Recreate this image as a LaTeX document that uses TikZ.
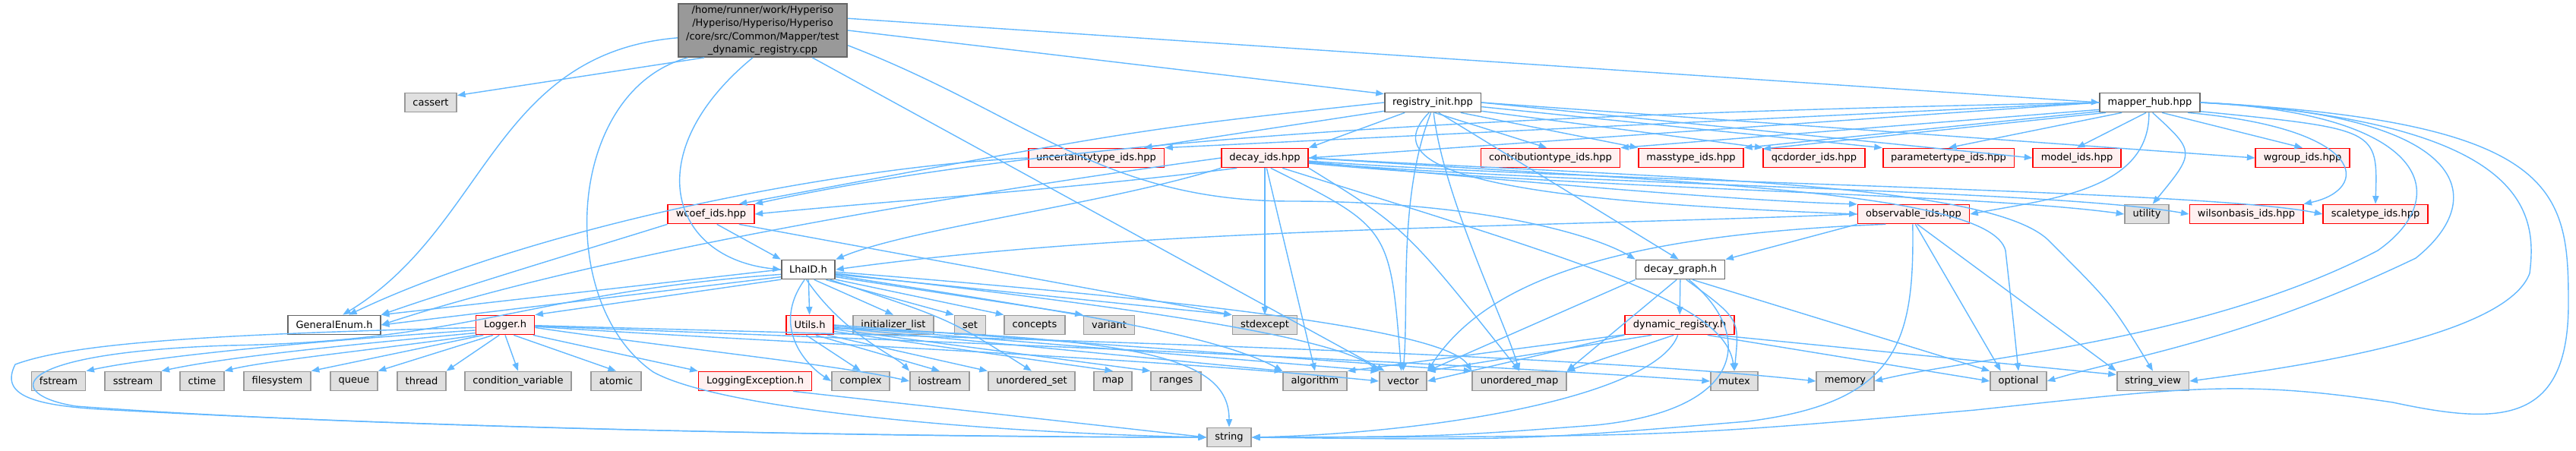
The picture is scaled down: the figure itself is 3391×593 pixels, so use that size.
\documentclass[tikz,border=0pt]{standalone}
\usepackage{fontspec}
\setmainfont{DejaVu Sans}
\usetikzlibrary{arrows.meta}

\definecolor{edgeblue}{HTML}{63B8FF}
\definecolor{mainfill}{HTML}{999999}
\definecolor{boxline}{HTML}{666666}
\definecolor{sysfill}{HTML}{E0E0E0}
\definecolor{sysline}{HTML}{999999}
\definecolor{truncfill}{HTML}{FFF0F0}

\tikzset{
  filebox/.style={draw=boxline, fill=white, line width=1pt, minimum height=0.5cm,
    inner xsep=0.21cm, inner ysep=0pt, font=\fontsize{7.4}{9.9}\selectfont},
  mainbox/.style={filebox, fill=mainfill, align=center, minimum height=1.4cm},
  truncbox/.style={filebox, draw=red, fill=truncfill},
  sysbox/.style={filebox, draw=sysline, fill=sysfill},
  dep/.style={draw=edgeblue, line width=0.8pt, -{Triangle[length=6pt,width=4.6pt]}},
}

\begin{document}
\begin{tikzpicture}[x=0.02cm, y=-0.02cm]
\useasboundingbox (0,0) rectangle (3391,593);

% the test file
\node[mainbox] (main) at (1004,40) {/home/runner/work/Hyperiso\\/Hyperiso/Hyperiso/Hyperiso\\/core/src/Common/Mapper/test\\\_dynamic\_registry.cpp};

% row 2
\node[sysbox] (cassert) at (567,135) {cassert};
\node[filebox] (reginit) at (1886,135) {registry\_init.hpp};
\node[filebox] (mapper) at (2830,135) {mapper\_hub.hpp};

% row 3: id headers
\node[truncbox] (uncert) at (1443,208) {uncertaintytype\_ids.hpp};
\node[truncbox] (decayids) at (1665,208) {decay\_ids.hpp};
\node[truncbox] (contrib) at (2041,208) {contributiontype\_ids.hpp};
\node[truncbox] (mass) at (2226,208) {masstype\_ids.hpp};
\node[truncbox] (qcd) at (2388,208) {qcdorder\_ids.hpp};
\node[truncbox] (param) at (2565,208) {parametertype\_ids.hpp};
\node[truncbox] (model) at (2734,208) {model\_ids.hpp};
\node[truncbox] (wgroup) at (3031,208) {wgroup\_ids.hpp};

% row 4
\node[truncbox] (wcoef) at (936,282) {wcoef\_ids.hpp};
\node[truncbox] (observ) at (2519,282) {observable\_ids.hpp};
\node[sysbox] (utility) at (2826,282) {utility};
\node[truncbox] (wilson) at (2957,282) {wilsonbasis\_ids.hpp};
\node[truncbox] (scale) at (3127,282) {scaletype\_ids.hpp};

% row 5
\node[filebox] (lhaid) at (1064,355) {LhaID.h};
\node[filebox] (dgraph) at (2212,355) {decay\_graph.h};

% row 6
\node[filebox] (genenum) at (440,428) {GeneralEnum.h};
\node[truncbox] (logger) at (665,428) {Logger.h};
\node[truncbox] (utils) at (1066,428) {Utils.h};
\node[sysbox] (initlist) at (1176,428) {initializer\_list};
\node[sysbox] (sset) at (1277,428) {set};
\node[sysbox] (concepts) at (1362,428) {concepts};
\node[sysbox] (variant) at (1460,428) {variant};
\node[sysbox] (stdexc) at (1665,428) {stdexcept};
\node[truncbox] (dynreg) at (2211,428) {dynamic\_registry.h};

% row 7: system headers
\node[sysbox] (fstream) at (77,502) {fstream};
\node[sysbox] (sstream) at (175,502) {sstream};
\node[sysbox] (ctime) at (266,502) {ctime};
\node[sysbox] (filesys) at (365,502) {filesystem};
\node[sysbox] (queue) at (466,502) {queue};
\node[sysbox] (thread) at (555,502) {thread};
\node[sysbox] (condvar) at (682,502) {condition\_variable};
\node[sysbox] (atomic) at (811,502) {atomic};
\node[truncbox] (logexc) at (994,502) {LoggingException.h};
\node[sysbox] (complex) at (1133,502) {complex};
\node[sysbox] (iostream) at (1237,502) {iostream};
\node[sysbox] (uset) at (1358,502) {unordered\_set};
\node[sysbox] (smap) at (1465,502) {map};
\node[sysbox] (ranges) at (1548,502) {ranges};
\node[sysbox] (algo) at (1731,502) {algorithm};
\node[sysbox] (vector) at (1847,502) {vector};
\node[sysbox] (umap) at (2000,502) {unordered\_map};
\node[sysbox] (mutex) at (2283,502) {mutex};
\node[sysbox] (memory) at (2429,502) {memory};
\node[sysbox] (optional) at (2657,502) {optional};
\node[sysbox] (strview) at (2834,502) {string\_view};

% row 8
\node[sysbox] (string) at (1618,576) {string};

% test file includes
\draw[dep] (main.205) -- (cassert.15);
\draw[dep] (main.185) .. controls (650,70) and (640,300) .. (genenum.50);
\draw[dep] (main.200) .. controls (745,120) and (730,400) .. (860,490) .. controls (950,540) and (1300,570) .. (string.west);
\draw[dep] (main.250) .. controls (840,200) and (880,340) .. (lhaid.west);
\draw[dep] (main.east) -- (reginit.170);
\draw[dep] (main.8) -- (mapper.west);
\draw[dep] (main) -- (vector);
\draw[dep] (main.-10) .. controls (1350,150) and (1450,265) .. (1700,265) .. controls (1950,265) and (2100,310) .. (dgraph.north west);

% registry_init.hpp
\draw[dep] (reginit.190) -- (uncert.12);
\draw[dep] (reginit.200) -- (decayids.north east);
\draw[dep] (reginit.-80) -- (contrib.110);
\draw[dep] (reginit.-20) -- (mass.north west);
\draw[dep] (reginit.-10) -- (qcd.north west);
\draw[dep] (reginit.-5) -- (param.north west);
\draw[dep] (reginit.east) -- (model.west);
\draw[dep] (reginit.east) -- (wgroup.west);
\draw[dep] (reginit.west) .. controls (1500,170) .. (wcoef.20);
\draw[dep] (reginit.250) .. controls (1800,230) and (2000,265) .. (observ.west);
\draw[dep] (reginit.-60) -- (dgraph.100);
\draw[dep] (reginit.260) .. controls (1840,260) and (1855,400) .. (vector.north);
\draw[dep] (reginit.275) .. controls (1900,260) and (1980,420) .. (umap.north);

% mapper_hub.hpp
\draw[dep] (mapper.west) -- (uncert.north east);
\draw[dep] (mapper.west) -- (decayids.east);
\draw[dep] (mapper.188) -- (contrib.north east);
\draw[dep] (mapper.190) -- (mass.north east);
\draw[dep] (mapper.193) -- (qcd.170);
\draw[dep] (mapper.200) -- (param.north);
\draw[dep] (mapper.250) -- (model.north);
\draw[dep] (mapper.-40) -- (wgroup.north);
\draw[dep] (mapper.180) .. controls (2000,150) and (1400,180) .. (wcoef.north east);
\draw[dep] (mapper.265) .. controls (2830,250) and (2700,262) .. (observ.east);
\draw[dep] (mapper.-75) .. controls (2890,200) .. (utility.60);
\draw[dep] (mapper.-15) .. controls (3120,170) and (3120,250) .. (wilson.north east);
\draw[dep] (mapper.-10) .. controls (3130,170) .. (scale.north);
\draw[dep] (mapper.east) .. controls (3200,150) and (3230,260) .. (3130,330) .. controls (2900,450) and (2600,470) .. (memory.east);
\draw[dep] (mapper.east) .. controls (3250,150) and (3280,260) .. (3180,340) .. controls (2950,450) and (2800,470) .. (optional.east);
\draw[dep] (mapper.east) .. controls (3330,160) and (3340,280) .. (3330,360) .. controls (3300,440) and (3050,480) .. (strview.east);
\draw[dep] (mapper.east) .. controls (3370,160) and (3381,250) .. (3381,400) .. controls (3381,560) and (3290,560) .. (3150,530) .. controls (2950,500) and (2880,510) .. (2600,540) .. controls (2200,575) .. (string.east);

% decay_ids.hpp
\draw[dep] (decayids) -- (stdexc);
\draw[dep] (decayids.-80) -- (algo.north);
\draw[dep] (decayids.south west) .. controls (1450,270) and (1200,300) .. (lhaid.north east);
\draw[dep] (decayids.west) .. controls (1300,250) and (800,330) .. (genenum.east);
\draw[dep] (decayids.200) .. controls (1400,250) and (1200,262) .. (wcoef.east);
\draw[dep] (decayids.-5) .. controls (2000,240) and (2300,265) .. (observ.170);
\draw[dep] (decayids.-7) .. controls (2100,250) and (2600,255) .. (utility.west);
\draw[dep] (decayids.-6) .. controls (2100,245) and (2700,250) .. (wilson.west);
\draw[dep] (decayids.-4) .. controls (2100,240) and (2900,250) .. (scale.west);
\draw[dep] (decayids.south east) .. controls (1850,300) .. (umap.north);
\draw[dep] (decayids.-30) .. controls (2100,350) and (2270,400) .. (mutex.north);
\draw[dep] (decayids.-60) .. controls (1830,300) .. (vector.100);
\draw[dep] (decayids.east) .. controls (2200,240) and (2620,250) .. (2640,330) .. controls (2650,420) .. (optional.north);
\draw[dep] (decayids.east) .. controls (2200,235) and (2630,240) .. (2700,320) .. controls (2780,400) .. (strview.north);

% observable_ids.hpp
\draw[dep] (observ.south west) -- (dgraph.north east);
\draw[dep] (observ.west) .. controls (2000,300) and (1500,300) .. (lhaid.east);
\draw[dep] (observ.200) .. controls (2100,310) and (1950,380) .. (vector.north east);
\draw[dep] (observ.-80) -- (optional.150);
\draw[dep] (observ.-70) -- (strview.north west);
\draw[dep] (observ.-95) .. controls (2520,450) and (2500,530) .. (2300,555) .. controls (2000,580) .. (string.east);

% decay_graph.h
\draw[dep] (dgraph) -- (dynreg);
\draw[dep] (dgraph.south west) -- (vector.north east);
\draw[dep] (dgraph.-110) -- (umap.north east);
\draw[dep] (dgraph.-60) .. controls (2290,420) .. (mutex.north);
\draw[dep] (dgraph.-40) -- (optional.north west);
\draw[dep] (dgraph.-50) .. controls (2310,440) and (2300,540) .. (2100,560) .. controls (1900,575) .. (string.east);

% dynamic_registry.h
\draw[dep] (dynreg.south west) -- (vector.east);
\draw[dep] (dynreg.200) -- (vector.north east);
\draw[dep] (dynreg.-120) -- (umap.north east);
\draw[dep] (dynreg.190) -- (algo.north east);
\draw[dep] (dynreg.-100) .. controls (2180,520) and (1900,570) .. (string.east);
\draw[dep] (dynreg.-15) -- (strview.170);
\draw[dep] (dynreg.-20) -- (optional.west);

% LhaID.h
\draw[dep] (lhaid.west) -- (genenum.north east);
\draw[dep] (lhaid.195) -- (genenum.east);
\draw[dep] (lhaid.200) -- (logger.north east);
\draw[dep] (lhaid) -- (utils);
\draw[dep] (lhaid.-60) -- (initlist.north);
\draw[dep] (lhaid.-30) -- (sset.north west);
\draw[dep] (lhaid.-20) -- (concepts.north west);
\draw[dep] (lhaid.-15) -- (variant.north west);
\draw[dep] (lhaid.-10) -- (stdexc.north west);
\draw[dep] (lhaid.250) .. controls (1015,430) and (1060,480) .. (complex.west);
\draw[dep] (lhaid.-100) .. controls (1110,440) and (1180,470) .. (iostream.north west);
\draw[dep] (lhaid.-25) .. controls (1250,420) .. (uset.north);
\draw[dep] (lhaid.-12) .. controls (1400,410) and (1600,440) .. (algo.north west);
\draw[dep] (lhaid.-8) .. controls (1450,400) and (1750,440) .. (vector.north west);
\draw[dep] (lhaid.-5) .. controls (1500,390) and (1900,430) .. (umap.north west);
\draw[dep] (lhaid.190) .. controls (700,385) and (620,450) .. (300,455) .. controls (5,465) and (5,520) .. (100,535) .. controls (500,565) and (1200,575) .. (string.west);

% Logger.h
\draw[dep] (logger.190) .. controls (400,450) and (200,470) .. (fstream.north east);
\draw[dep] (logger.195) .. controls (450,455) and (300,470) .. (sstream.north east);
\draw[dep] (logger.200) .. controls (500,460) and (350,475) .. (ctime.north east);
\draw[dep] (logger.205) -- (filesys.north east);
\draw[dep] (logger.220) -- (queue.north east);
\draw[dep] (logger.240) -- (thread.north east);
\draw[dep] (logger.south) -- (condvar.north);
\draw[dep] (logger.-50) -- (atomic.north);
\draw[dep] (logger.-20) -- (logexc.north west);
\draw[dep] (logger.-5) .. controls (900,460) and (1100,480) .. (iostream.west);
\draw[dep] (logger.-3) .. controls (1000,450) and (1500,470) .. (vector.west);
\draw[dep] (logger.-2) .. controls (1100,445) and (1800,470) .. (mutex.west);
\draw[dep] (logger.-1) .. controls (1100,440) and (2000,460) .. (memory.west);
\draw[dep] (logger.185) .. controls (300,440) and (100,450) .. (20,480) .. controls (0,520) and (40,535) .. (150,540) .. controls (600,565) and (1200,576) .. (string.west);

% Utils.h
\draw[dep] (utils.-110) -- (complex.north);
\draw[dep] (utils.-60) -- (iostream.north);
\draw[dep] (utils.-30) -- (uset.north west);
\draw[dep] (utils.-15) -- (smap.north);
\draw[dep] (utils.-10) -- (ranges.north west);
\draw[dep] (utils.-6) -- (algo.north west);
\draw[dep] (utils.-3) -- (vector.north west);
\draw[dep] (utils.east) -- (umap.north west);
\draw[dep] (utils.-8) .. controls (1500,445) and (1618,470) .. (string.north);

% wcoef_ids.hpp, uncertaintytype_ids.hpp, LoggingException.h
\draw[dep] (wcoef.-60) -- (lhaid.north west);
\draw[dep] (wcoef.south west) .. controls (800,320) and (600,380) .. (genenum.north east);
\draw[dep] (wcoef.-20) -- (stdexc.north west);
\draw[dep] (uncert.west) .. controls (1100,220) and (700,300) .. (genenum.35);
\draw[dep] (logexc.-15) -- (string.west);

\end{tikzpicture}
\end{document}
